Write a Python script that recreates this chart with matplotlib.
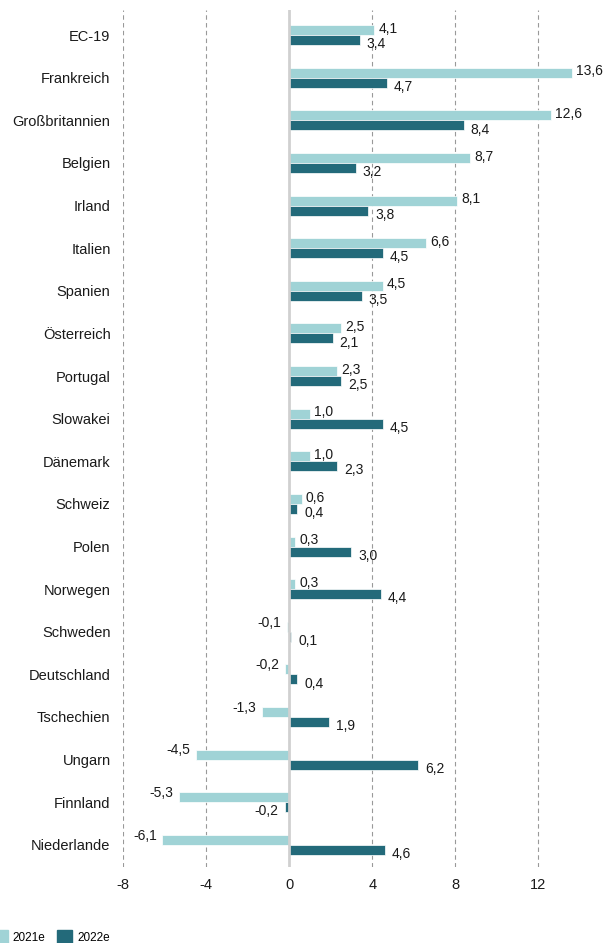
import matplotlib
matplotlib.use("Agg")
import matplotlib.pyplot as plt
from matplotlib.patches import Patch
import numpy as np

plt.rcParams['font.family'] = ['Liberation Sans', 'DejaVu Sans']

laender = ["EC-19", "Frankreich", "Großbritannien", "Belgien", "Irland", "Italien",
           "Spanien", "Österreich", "Portugal", "Slowakei", "Dänemark", "Schweiz",
           "Polen", "Norwegen", "Schweden", "Deutschland", "Tschechien", "Ungarn",
           "Finnland", "Niederlande"]
w2021 = [4.1, 13.6, 12.6, 8.7, 8.1, 6.6, 4.5, 2.5, 2.3, 1.0, 1.0, 0.6, 0.3, 0.3,
         -0.1, -0.2, -1.3, -4.5, -5.3, -6.1]
w2022 = [3.4, 4.7, 8.4, 3.2, 3.8, 4.5, 3.5, 2.1, 2.5, 4.5, 2.3, 0.4, 3.0, 4.4,
         0.1, 0.4, 1.9, 6.2, -0.2, 4.6]
xticks = [-8, -4, 0, 4, 8, 12]

hell = "#a0d3d6"
dunkel = "#236a7a"
txt = "#1a1a1a"

fig = plt.figure(figsize=(6.09, 9.43), dpi=100)
ax = fig.add_axes([0.202, 0.0806, 0.798, 0.9088])

y = np.arange(len(laender))
h = 0.235
ax.barh(y - h / 2, w2021, height=h, color=hell, edgecolor="white", linewidth=0.5, zorder=2)
ax.barh(y + h / 2, w2022, height=h, color=dunkel, edgecolor="white", linewidth=0.5, zorder=2)

def fmt(v):
    return f"{v:.1f}".replace(".", ",")

# Beschriftungen
for i in range(len(laender)):
    v = w2021[i]
    if v >= 0:
        ax.annotate(fmt(v), (v, y[i] - h / 2), xytext=(3, 1), textcoords="offset points",
                    ha="left", va="center", fontsize=10, color=txt)
    else:
        ax.annotate(fmt(v), (v, y[i] - h / 2), xytext=(-4, 3), textcoords="offset points",
                    ha="right", va="center", fontsize=10, color=txt)
    v = w2022[i]
    if v >= 0:
        ax.annotate(fmt(v), (v, y[i] + h / 2), xytext=(5, -3), textcoords="offset points",
                    ha="left", va="center", fontsize=10, color=txt)
    else:
        ax.annotate(fmt(v), (v, y[i] + h / 2), xytext=(-5, -3), textcoords="offset points",
                    ha="right", va="center", fontsize=10, color=txt)

ax.set_xlim(-8, 15.4)
ax.set_ylim(19.52, -0.59)
ax.set_yticks(y)
ax.set_yticklabels(laender, fontsize=10.5, color=txt)
ax.set_xticks(xticks)
ax.set_xticklabels([str(t) for t in xticks], fontsize=10.5, color=txt)
ax.tick_params(axis="y", length=0, pad=9)
ax.tick_params(axis="x", length=0, pad=8)
for s in ax.spines.values():
    s.set_visible(False)

for t in xticks:
    if t != 0:
        ax.axvline(t, color="#999999", linestyle=(0, (4, 3)), linewidth=0.8, zorder=1)
ax.axvline(0, color="#d0d0d0", linewidth=2, zorder=3)

fig.legend(handles=[Patch(color=hell, label="2021e"), Patch(color=dunkel, label="2022e")],
           loc="lower left", bbox_to_anchor=(-0.03, -0.012), ncol=2, frameon=False,
           fontsize=8.5, handlelength=1.3, handleheight=1.3, handletextpad=0.4,
           columnspacing=1.0)

fig.savefig("out.png", dpi=100)
